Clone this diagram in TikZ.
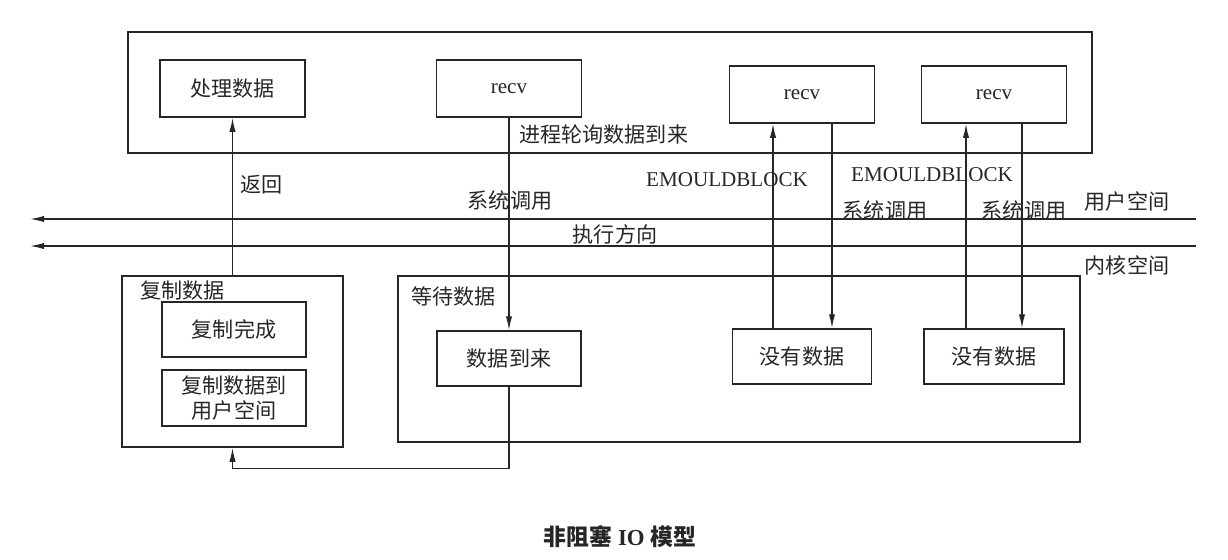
\documentclass[tikz,border=0pt]{standalone}
\usepackage{fontspec}
\setmainfont{Liberation Serif}
\newfontfamily\cjk{Noto Sans CJK SC}
\newcommand\zhfont{\cjk\fontsize{12}{14}\selectfont}
\usetikzlibrary{positioning,arrows.meta}

\tikzset{
  box/.style={rectangle,draw,minimum width=2.9cm,minimum height=1.14cm,font=\zhfont,align=center},
  area/.style={rectangle,draw},
  lbl/.style={font=\zhfont,inner sep=1pt},
  call/.style={->,line width=0.8pt},
}

\begin{document}
\begin{tikzpicture}[x=0.02cm,y=-0.02cm,>={Latex[length=8pt,width=3.6pt]},line width=0.8pt,color=black!85]
    \useasboundingbox (0,0) rectangle (1228,559);
    % user space
    \node[area,minimum width=19.28cm,minimum height=2.42cm] (user) at (610,92.5) {};
    \node[box] (proc) at (232.5,88.5) {处理数据};
    \node[box,font=\fontsize{12}{14}\selectfont] (recva) at (509,88.5) {recv};
    \node[box,font=\fontsize{12}{14}\selectfont] (recvb) at (802,94.5) {recv};
    \node[box,font=\fontsize{12}{14}\selectfont] (recvc) at (994,94.5) {recv};
    \node[lbl,anchor=west] (poll) at (517,134) {进程轮询数据到来};
    % kernel space
    \node[area,minimum width=4.42cm,minimum height=3.42cm] (copy) at (232.5,361.5) {};
    \node[lbl,anchor=west] (copyt) at (138,291) {复制数据};
    \node[box,minimum width=2.88cm,minimum height=1.1cm] (done) at (234,329.5) {复制完成};
    \node[box,minimum width=2.88cm,minimum height=1.12cm,inner sep=1pt] (touser) at (234,398) {复制数据到\\用户空间};
    \node[area,minimum width=13.64cm,minimum height=3.32cm] (wait) at (739,359) {};
    \node[lbl,anchor=west] (waitt) at (409,296) {等待数据};
    \node[box,minimum width=2.88cm,minimum height=1.1cm] (arrive) at (509,358.5) {数据到来};
    \node[box,minimum width=2.78cm,minimum height=1.1cm] (nodataa) at (802,356.5) {没有数据};
    \node[box,minimum width=2.8cm,minimum height=1.1cm] (nodatab) at (994,356.5) {没有数据};
    % direction of execution
    \coordinate (ra) at (1196,219);
    \coordinate (la) at (30,219);
    \coordinate (rb) at (1196,246);
    \coordinate (lb) at (30,246);
    \draw[call] (ra) -- (la);
    \draw[call] (rb) -- (lb);
    \node[lbl] (dir) at (615,234) {执行方向};
    \node[lbl] (us) at (1127,201) {用户空间};
    \node[lbl] (ks) at (1127,265) {内核空间};
    % calls
    \draw[call] (copy.north) -- (proc.south);
    \node[lbl,anchor=west] (ret) at (238,185) {返回};
    \draw[call] (recva.south) -- (arrive.north);
    \node[lbl] (calla) at (510,200) {系统调用};
    \draw[call] ([xshift=-0.58cm]nodataa.north) -- ([xshift=-0.58cm]recvb.south);
    \draw[call] ([xshift=0.6cm]recvb.south) -- ([xshift=0.6cm]nodataa.north);
    \draw[call] ([xshift=-0.56cm]nodatab.north) -- ([xshift=-0.56cm]recvc.south);
    \draw[call] ([xshift=0.56cm]recvc.south) -- ([xshift=0.56cm]nodatab.north);
    \node[font=\fontsize{12}{14}\selectfont,inner sep=1pt] (blka) at (727,180) {EMOULDBLOCK};
    \node[font=\fontsize{12}{14}\selectfont,inner sep=1pt] (blkb) at (932,175) {EMOULDBLOCK};
    \node[lbl] (callb) at (885,210) {系统调用};
    \node[lbl] (callc) at (1024,210) {系统调用};
    \draw[call] (arrive.south) -- ++(0,82) -| (copy.south);
    % caption
    \node[font=\fontsize{13}{15}\selectfont\bfseries] (cap) at (620,537) {{\cjk 非阻塞} IO {\cjk 模型}};
\end{tikzpicture}
\end{document}
